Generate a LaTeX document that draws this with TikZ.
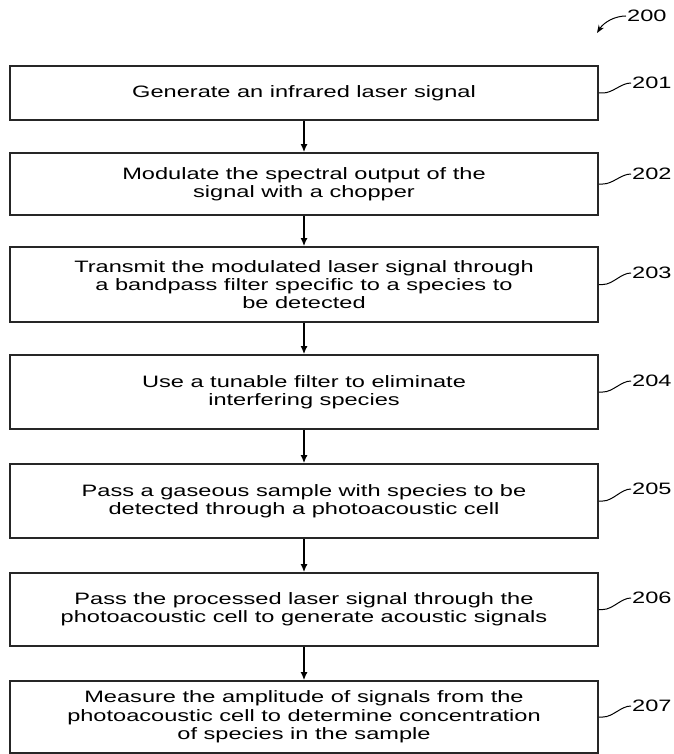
\documentclass[tikz,border=0pt]{standalone}
\usepackage{fontspec}
\setmainfont[FakeStretch=1.43]{Liberation Sans}
\usetikzlibrary{arrows.meta}
\begin{document}
\begin{tikzpicture}[x=1pt,y=-1pt,
  stepbox/.style={draw=black!85,line width=1.8pt,minimum width=588pt,inner sep=0pt,align=center,
     font=\fontsize{16.5}{18.3}\selectfont},
  reflabel/.style={inner sep=0pt,anchor=west,font=\fontsize{16.5}{18}\selectfont},
  flow/.style={line width=1.3pt,-{Latex[length=8pt,width=7pt]}},
  leader/.style={line width=1pt}]
\useasboundingbox (0,0) rectangle (673,754);
\node[stepbox,minimum height=54pt] (b1) at (304,93) {Generate an infrared laser signal};
\node[stepbox,minimum height=62pt] (b2) at (304,184) {Modulate the spectral output of the\\signal with a chopper};
\node[stepbox,minimum height=75pt] (b3) at (304,284.5) {Transmit the modulated laser signal through\\a bandpass filter specific to a species to\\be detected};
\node[stepbox,minimum height=74pt] (b4) at (304,392) {Use a tunable filter to eliminate\\interfering species};
\node[stepbox,minimum height=74pt] (b5) at (304,501) {Pass a gaseous sample with species to be\\detected through a photoacoustic cell};
\node[stepbox,minimum height=73pt] (b6) at (304,609.5) {Pass the processed laser signal through the\\photoacoustic cell to generate acoustic signals};
\node[stepbox,minimum height=72pt] (b7) at (304,717) {Measure the amplitude of signals from the\\photoacoustic cell to determine concentration\\of species in the sample};
\foreach \a/\b in {b1/b2,b2/b3,b3/b4,b4/b5,b5/b6,b6/b7}
  \draw[flow] (\a) -- (\b);
\node[reflabel] (l1) at (632,83) {201};
\node[reflabel] (l2) at (632,174) {202};
\node[reflabel] (l3) at (632,273) {203};
\node[reflabel] (l4) at (632,381) {204};
\node[reflabel] (l5) at (632,489) {205};
\node[reflabel] (l6) at (632,598) {206};
\node[reflabel] (l7) at (632,706) {207};
\foreach \i in {1,...,7}
  \draw[leader] (b\i.east) -- ++(4,0) .. controls +(10,0) and +(-10,0) .. ([xshift=-1pt]l\i.west);
\node[reflabel] (l200) at (627,16) {200};
\coordinate (a200) at (597,33);
\draw[leader,-{Stealth[length=8pt,width=6pt]}] ([xshift=-1pt]l200.west) .. controls (615,16) and (604,22) .. (a200);
\end{tikzpicture}
\end{document}
